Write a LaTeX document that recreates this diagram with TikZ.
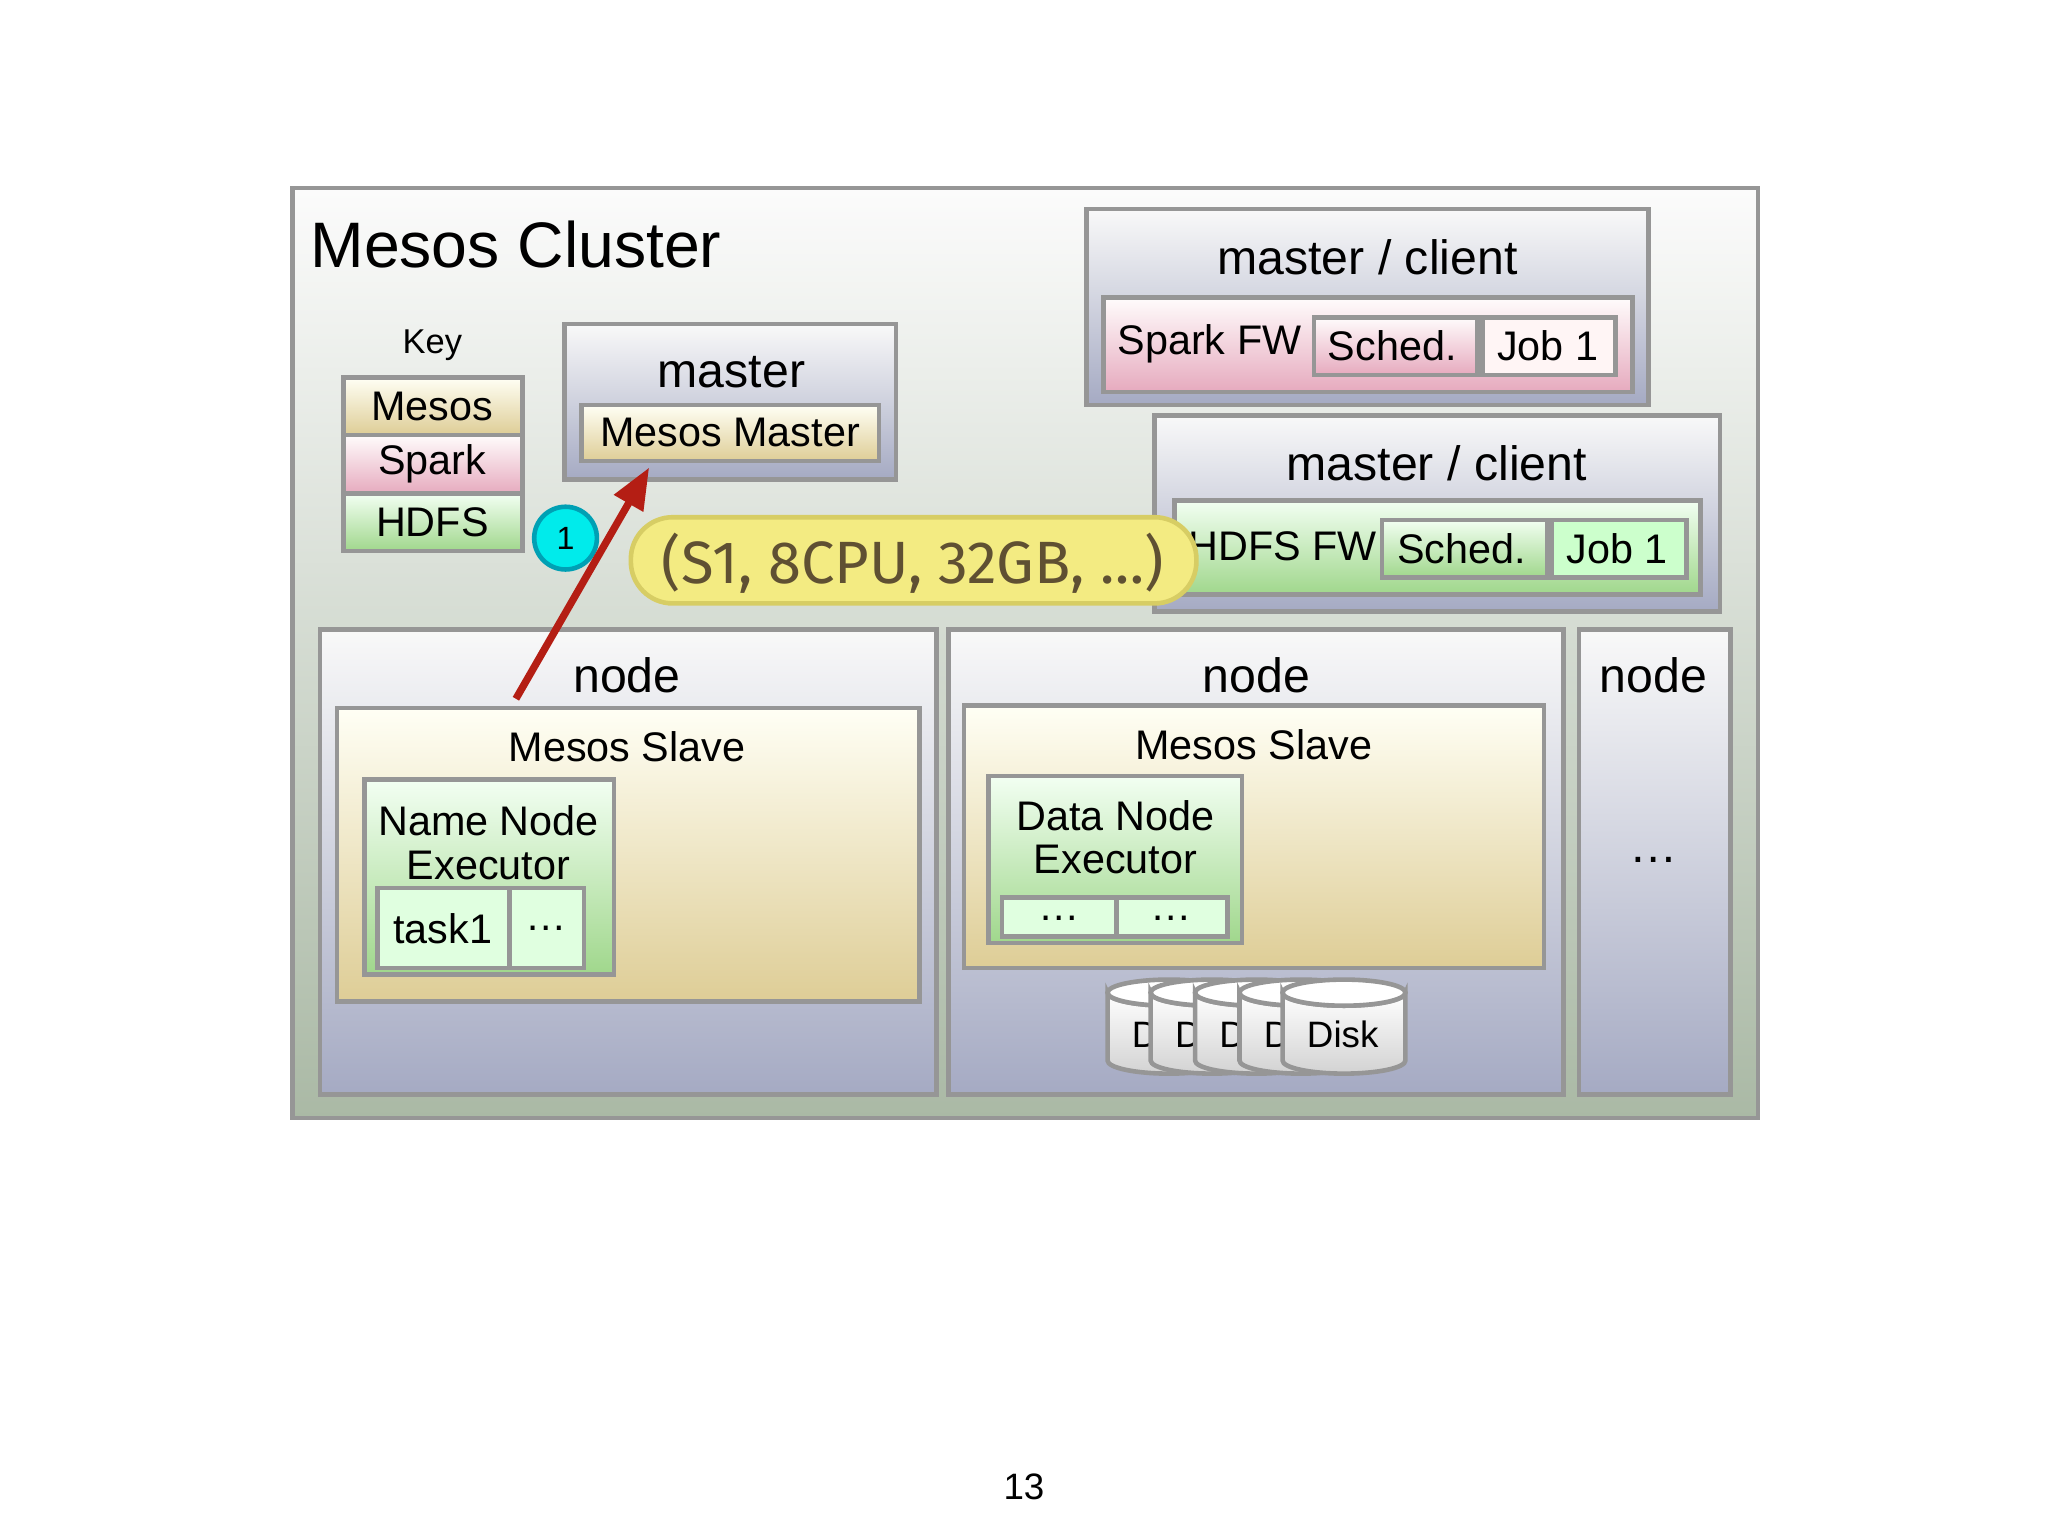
\documentclass[tikz,border=0pt]{standalone}
\usepackage{fontspec}
\setmainfont{Liberation Sans}
\newfontfamily\pillfont{Fira Sans}
\usetikzlibrary{arrows.meta,shapes.geometric}
\definecolor{frame}{RGB}{150,150,150}
\definecolor{tanb}{RGB}{222,205,150}
\definecolor{pinkb}{RGB}{230,170,190}
\definecolor{greenb}{RGB}{160,215,140}
\definecolor{grayb}{RGB}{165,170,195}
\tikzset{
 box/.style={draw=frame,line width=1pt},
 grayfill/.style={box,top color=white!95!gray,bottom color=grayb},
 tanfill/.style={box,top color=white!96!yellow,bottom color=tanb},
 pinkfill/.style={box,top color=white!95!pink,bottom color=pinkb},
 greenfill/.style={box,top color=white!95!green,bottom color=greenb},
 lbl/.style={inner sep=0pt,font=\fontsize{10.5}{12}\selectfont},
 sm/.style={inner sep=0pt,font=\fontsize{9}{10.5}\selectfont},
}
\begin{document}
\begin{tikzpicture}[x=0.01cm,y=-0.01cm]
\useasboundingbox (0,0) rectangle (1568,1176);
\fill[white] (0,0) rectangle (1568,1176);
% cluster
\draw[box,top color=white!97!gray,bottom color={rgb,255:red,170;green,185;blue,165}] (224,144) rectangle (1346,856);
\node[anchor=west,inner sep=0pt,font=\fontsize{14}{16}\selectfont] (title) at (237,187) {Mesos Cluster};
% key
\node[inner sep=0pt,font=\fontsize{7.5}{9}\selectfont] (key) at (331,264) {Key};
\draw[tanfill] (263,289) rectangle (400,333); \node[sm] (km) at (331,311) {Mesos};
\draw[pinkfill] (263,333) rectangle (400,378); \node[sm] (ks) at (331,355) {Spark};
\draw[greenfill] (263,378) rectangle (400,422); \node[sm] (kh) at (331,400) {HDFS};
% master
\draw[grayfill] (432,248) rectangle (686,367);
\node[lbl] (mt) at (560,285) {master};
\draw[tanfill] (445,310) rectangle (673,353);
\node[sm] (mm) at (559,331) {Mesos Master};
% master/client 1
\draw[grayfill] (832,160) rectangle (1262,310);
\node[lbl] (mc1) at (1047,197) {master / client};
\draw[pinkfill] (845,228) rectangle (1250,300);
\node[sm] (sfw) at (926,263) {Spark FW};
\draw[pinkfill] (1006,243) rectangle (1131,287); \node[sm] (s1) at (1066,265) {Sched.};
\draw[box,fill=white!85!pink] (1135,243) rectangle (1237,287); \node[sm] (j1) at (1185,265) {Job 1};
% master/client 2
\draw[grayfill] (884,318) rectangle (1317,468);
\node[lbl] (mc2) at (1100,355) {master / client};
\draw[greenfill] (899,383) rectangle (1302,455);
\node[sm] (hfw) at (982,418) {HDFS FW};
\draw[greenfill] (1058,398) rectangle (1185,442); \node[sm] (s2) at (1119,420) {Sched.};
\draw[box,fill=white!80!green] (1188,398) rectangle (1291,442); \node[sm] (j2) at (1238,420) {Job 1};
% pill
\draw[draw={rgb,255:red,215;green,205;blue,100},line width=1pt,fill={rgb,255:red,243;green,235;blue,130},rounded corners=0.32cm] (483,396) rectangle (916,462);
\node[inner sep=0pt,text={rgb,255:red,95;green,80;blue,50},font=\pillfont\fontsize{13}{15}\selectfont] (pill) at (699,431) {(S1, 8CPU, 32GB, …)};
% circle
\node[circle,draw={rgb,255:red,0;green,160;blue,180},line width=1pt,fill={rgb,255:red,0;green,235;blue,235},minimum size=0.48cm,inner sep=0pt,font=\fontsize{7}{8}\selectfont] (c1) at (433,412) {1};
% node 1
\draw[grayfill] (245,482) rectangle (717,838);
\node[lbl] (n1) at (480,517) {node};
\draw[tanfill] (258,542) rectangle (704,767);
\node[sm] (ms1) at (480,572) {Mesos Slave};
\draw[greenfill] (279,597) rectangle (470,746);
\node[sm,align=center] (nne) at (374,645) {Name Node\\[-1pt]Executor};
\draw[box,fill=white!88!green] (289,680) rectangle (390,741); \node[sm] (t1) at (339,711) {task1};
\draw[box,fill=white!88!green] (390,680) rectangle (447,741); \node[sm] (t2) at (418,711) {…};
% node 2
\draw[grayfill] (726,482) rectangle (1197,838);
\node[lbl] (n2) at (962,517) {node};
\draw[tanfill] (738,540) rectangle (1182,741);
\node[sm] (ms2) at (960,570) {Mesos Slave};
\draw[greenfill] (757,594) rectangle (951,722);
\node[sm,align=center] (dne) at (854,641) {Data Node\\[-1pt]Executor};
\draw[box,fill=white!88!green] (767,687) rectangle (855,717); \node[sm] (d1) at (811,703) {…};
\draw[box,fill=white!88!green] (855,687) rectangle (940,717); \node[sm] (d2) at (897,703) {…};
% disks
\foreach \l [count=\i] in {848,881,915,949,982}{
 \draw[draw=frame,line width=1pt,top color=white,bottom color=gray!35]
  (\l,760) -- (\l,812) arc[start angle=180,end angle=360,x radius=47,y radius=-10] -- (\l+94,760) arc[start angle=0,end angle=180,x radius=47,y radius=10] -- cycle;
 \draw[draw=frame,line width=1pt,fill=white] (\l+47,760) ellipse[x radius=47,y radius=10];
 \node[inner sep=0pt,font=\fontsize{8}{10}\selectfont] (disk\i) at (\l+46,792) {Disk};
}
% node 3
\draw[grayfill] (1209,482) rectangle (1325,838);
\node[lbl] (n3) at (1266,517) {node};
\node[lbl] (n3d) at (1266,658) {…};
% arrow
\coordinate (as) at (395,535);
\coordinate (ae) at (497,358);
\draw[line width=1.6pt,draw={rgb,255:red,180;green,30;blue,20},-{Triangle[length=9pt,width=7pt]}] (as) -- (ae);
\node[inner sep=0pt,font=\fontsize{8}{9}\selectfont] (pg) at (784,1138) {13};
\end{tikzpicture}
\end{document}
